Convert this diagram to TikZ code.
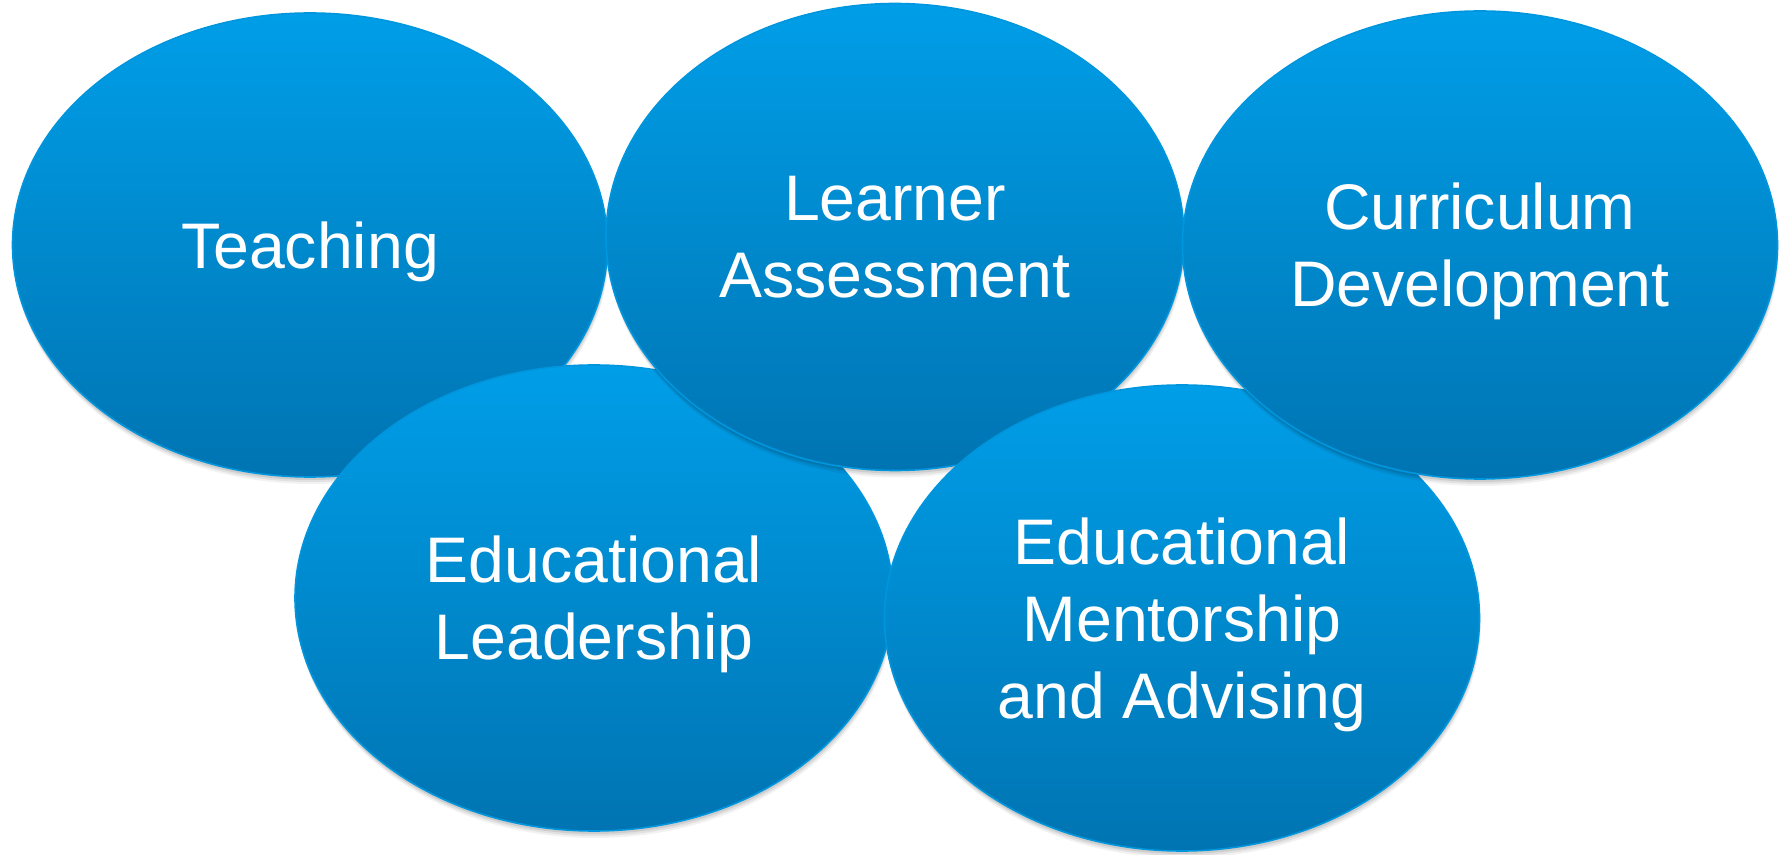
\documentclass[tikz,border=0pt]{standalone}
\usepackage{fontspec}
\setmainfont{Liberation Sans}
\usetikzlibrary{shapes.geometric}
\definecolor{btop}{RGB}{0,158,232}
\definecolor{bbot}{RGB}{0,116,178}
\definecolor{bedge}{RGB}{0,150,222}
\tikzset{
  bubble/.style={ellipse, inner sep=0pt, draw=bedge, line width=0.8pt,
    top color=btop, bottom color=bbot,
    preaction={fill=black, fill opacity=0.05, draw=none, transform canvas={xshift=0.6pt,yshift=-3.5pt}},
    preaction={fill=black, fill opacity=0.07, draw=none, transform canvas={xshift=0.4pt,yshift=-2.5pt}},
    preaction={fill=black, fill opacity=0.09, draw=none, transform canvas={xshift=0.2pt,yshift=-1.5pt}}},
  lbl/.style={text=white, font=\fontsize{32.2}{38.5}\selectfont, align=center, inner sep=0pt}
}
\begin{document}
\begin{tikzpicture}[x=0.5pt, y=-0.5pt]
\useasboundingbox (0,0) rectangle (1789,855);
\node[bubble, minimum width=297.5pt, minimum height=232pt] (teach) at (310,245) {};
\node[lbl] (teach-t) at ([yshift=-3.4pt]teach.center) {Teaching};
\node[bubble, minimum width=299pt, minimum height=233pt] (lead) at (594,598) {};
\node[lbl] (lead-t) at ([yshift=-3.4pt]lead.center) {Educational\\Leadership};
\node[bubble, minimum width=289pt, minimum height=233.5pt] (assess) at (895,237) {};
\node[lbl] (assess-t) at (assess.center) {Learner\\Assessment};
\node[bubble, minimum width=297.5pt, minimum height=233pt] (mentor) at (1182,618) {};
\node[lbl] (mentor-t) at ([yshift=-3.4pt]mentor.center) {Educational\\Mentorship\\and Advising};
\node[bubble, minimum width=297.5pt, minimum height=234pt] (curr) at (1480,245) {};
\node[lbl] (curr-t) at ([yshift=-3.4pt]curr.center) {Curriculum\\Development};
\end{tikzpicture}
\end{document}
